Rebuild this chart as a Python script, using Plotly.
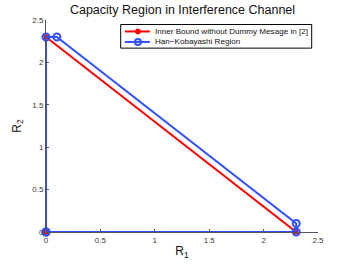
import plotly.graph_objects as go

# Data
inner_r1 = [0, 0, 2.3, 0]
inner_r2 = [0, 2.3, 0, 0]
hk_r1 = [0, 0, 0.1, 2.3, 2.3, 0]
hk_r2 = [0, 2.3, 2.3, 0.1, 0, 0]
x_ticks = [0, 0.5, 1, 1.5, 2, 2.5]
y_ticks = [0, 0.5, 1, 1.5, 2, 2.5]
series_names = ["Inner Bound without Dummy Mesage in [2]", "Han\u2212Kobayashi Region"]
RED = "#ff0000"
BLUE = "#3050ff"

fig = go.Figure()
fig.add_trace(go.Scatter(
    x=inner_r1, y=inner_r2, mode="lines+markers", name=series_names[0],
    line=dict(color=RED, width=2),
    marker=dict(color=RED, size=5, symbol="circle"),
    cliponaxis=False,
))
fig.add_trace(go.Scatter(
    x=hk_r1, y=hk_r2, mode="lines+markers", name=series_names[1],
    line=dict(color=BLUE, width=2),
    marker=dict(color=BLUE, size=7, symbol="circle-open", line=dict(width=2, color=BLUE)),
    cliponaxis=False,
))

# Manual legend (MATLAB-style compact box), in plot-area (paper) coordinates
lx0, lx1, ly0, ly1 = 0.2746, 0.9768, 0.8673, 0.9788
rows = [0.9459, 0.8965]
seg0, seg1, mk, tx = 0.290, 0.382, 0.338, 0.393
shapes = [dict(type="rect", xref="paper", yref="paper", x0=lx0, x1=lx1, y0=ly0, y1=ly1,
               line=dict(color="#000", width=1), fillcolor="white", layer="above")]
annotations = []
for i, (col, ry) in enumerate(zip([RED, BLUE], rows)):
    shapes.append(dict(type="line", xref="paper", yref="paper", x0=seg0, x1=seg1, y0=ry, y1=ry,
                       line=dict(color=col, width=2), layer="above"))
    if i == 0:
        shapes.append(dict(type="circle", xref="paper", yref="paper", xsizemode="pixel", ysizemode="pixel",
                           xanchor=mk, yanchor=ry, x0=-2.5, x1=2.5, y0=-2.5, y1=2.5,
                           fillcolor=col, line=dict(color=col, width=1), layer="above"))
    else:
        shapes.append(dict(type="circle", xref="paper", yref="paper", xsizemode="pixel", ysizemode="pixel",
                           xanchor=mk, yanchor=ry, x0=-3, x1=3, y0=-3, y1=3,
                           fillcolor="rgba(0,0,0,0)", line=dict(color=col, width=2), layer="above"))
    annotations.append(dict(text=series_names[i], xref="paper", yref="paper", x=tx, y=ry,
                            xanchor="left", yanchor="middle", showarrow=False,
                            font=dict(size=8.1, color="#111")))

font = "Liberation Sans, Arial, sans-serif"
fig.update_layout(
    width=351, height=264,
    margin=dict(l=46, r=33, t=19.5, b=32),
    paper_bgcolor="white", plot_bgcolor="white",
    font=dict(family=font, color="#222"),
    title=dict(text="Capacity Region in Interference Channel", x=0.52, xanchor="center",
               y=0.965, yanchor="middle", font=dict(size=12.5, color="#111")),
    showlegend=False,
    shapes=shapes,
    annotations=annotations,
)
fig.update_xaxes(range=[0, 2.5], tickvals=x_ticks, ticktext=["0", "0.5", "1", "1.5", "2", "2.5"],
                 ticks="inside", ticklen=3, tickcolor="#555", showline=True, linecolor="#555",
                 linewidth=1, showgrid=False, zeroline=False, tickfont=dict(size=8, color="#333"),
                 automargin=False,
                 title=dict(text="R<sub>1</sub>", font=dict(size=12, color="#111"), standoff=3))
fig.update_yaxes(range=[0, 2.5], tickvals=y_ticks, ticktext=["0", "0.5", "1", "1.5", "2", "2.5"],
                 ticks="inside", ticklen=3, tickcolor="#555", showline=True, linecolor="#555",
                 linewidth=1, showgrid=False, zeroline=False, tickfont=dict(size=8, color="#333"),
                 automargin=False,
                 title=dict(text="R<sub>2</sub>", font=dict(size=12, color="#111"), standoff=8))

fig.write_html("out.html", config={"displayModeBar": False},
               post_script="document.body.style.margin='0px';")
